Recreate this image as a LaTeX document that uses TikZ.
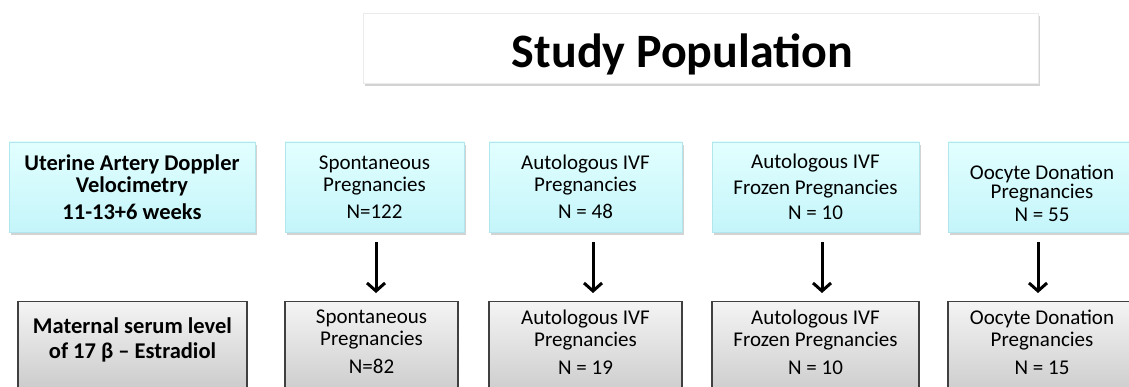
\documentclass[tikz,border=0pt]{standalone}
\usepackage{fontspec}
\setmainfont{Carlito}
\usetikzlibrary{arrows.meta,shadows}
\definecolor{cyantop}{RGB}{226,255,255}
\definecolor{cyanbot}{RGB}{196,245,250}
\definecolor{cyanline}{RGB}{176,230,236}
\definecolor{greytop}{RGB}{244,244,244}
\definecolor{greybot}{RGB}{192,192,192}
\definecolor{greyline}{RGB}{64,64,64}
\begin{document}
\begin{tikzpicture}[
                  x=1pt, y=-1pt,
                  every node/.style={align=center, inner sep=0pt,
                    font=\fontsize{21}{22}\selectfont},
                  bold/.style={font=\bfseries\fontsize{22.5}{22}\selectfont},
                  titlebox/.style={draw=black!8, fill=white, minimum width=675pt,
                    minimum height=70pt, text height=40pt, text depth=0pt,
                    font=\bfseries\fontsize{48}{50}\selectfont,
                    drop shadow={shadow xshift=1.5pt, shadow yshift=-3pt, opacity=.35}},
                  topbox/.style={draw=cyanline, top color=cyantop, bottom color=cyanbot,
                    minimum height=90pt,
                    drop shadow={shadow xshift=1.5pt, shadow yshift=-3pt, opacity=.35}},
                  resbox/.style={draw=greyline, line width=1.2pt, top color=greytop,
                    bottom color=greybot, anchor=north, inner ysep=8pt, text depth=40pt},
                  arr/.style={line width=3pt, -{Straight Barb[length=8pt,width=18pt]},
                    shorten <=10pt, shorten >=8pt}
                ]
                  \useasboundingbox (0,0) rectangle (1129,387);
                  \node[titlebox] (title) at (700.5,48) {Study Population\hspace*{36pt}};

                  \node[topbox, bold, minimum width=246pt] (lab1) at (132,187)
                    {Uterine Artery Doppler\\Velocimetry\\[5pt]11-13+6 weeks};
                  \node[topbox, minimum width=179pt] (sp1) at (374.5,187)
                    {Spontaneous\\Pregnancies\\[5pt]N=122};
                  \node[topbox, minimum width=193pt] (ivf1) at (585.5,187)
                    {Autologous IVF\\Pregnancies\\[5pt]N = 48};
                  \node[topbox, minimum width=207pt] (fr1) at (815.5,187)
                    {Autologous IVF\\[4pt]Frozen Pregnancies\\[3pt]N = 10};
                  \node[topbox, minimum width=188pt, text height=69pt, text depth=0pt] (od1) at (1042,187)
                    {Oocyte Donation\\[-3pt]Pregnancies\\[1pt]N = 55};

                  \node[resbox, bold, minimum width=229pt, inner ysep=16pt] (lab2) at (132.5,301)
                    {Maternal serum level\\[3pt]of 17 β – Estradiol};
                  \node[resbox, minimum width=173pt] (sp2) at (371.5,301)
                    {Spontaneous\\Pregnancies\\[6pt]N=82};
                  \node[resbox, minimum width=193pt] (ivf2) at (585.5,301)
                    {Autologous IVF\\Pregnancies\\[6pt]N = 19};
                  \node[resbox, minimum width=207pt] (fr2) at (815.5,301)
                    {Autologous IVF\\Frozen Pregnancies\\[6pt]N = 10};
                  \node[resbox, minimum width=188pt] (od2) at (1042,301)
                    {Oocyte Donation\\Pregnancies\\[6pt]N = 15};

                  \draw[arr] ([xshift=1.5pt]sp1.south) -- ([xshift=1.5pt]sp1.south |- sp2.north);
                  \draw[arr] ([xshift=7.5pt]ivf1.south) -- ([xshift=7.5pt]ivf1.south |- ivf2.north);
                  \draw[arr] ([xshift=6.5pt]fr1.south) -- ([xshift=6.5pt]fr1.south |- fr2.north);
                  \draw[arr] ([xshift=-4pt]od1.south) -- ([xshift=-4pt]od1.south |- od2.north);
                \end{tikzpicture}
\end{document}
